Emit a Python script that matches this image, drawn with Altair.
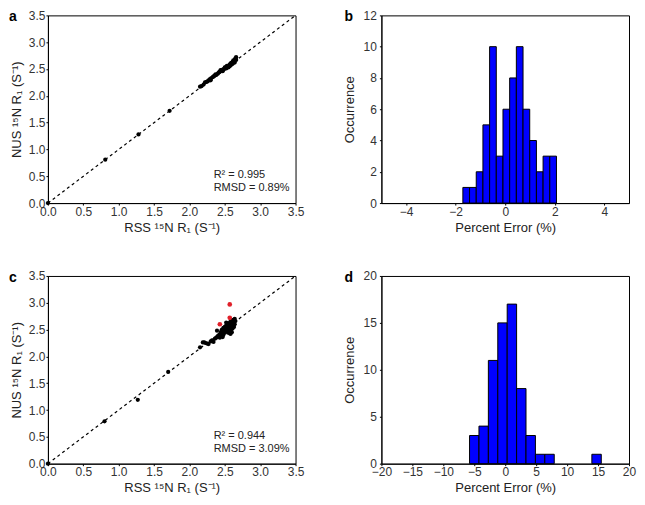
import altair as alt
import pandas as pd

# ---------------- data ----------------
# Panel a: RSS vs NUS 15N R1
a_x = [0.0, 0.81, 1.28, 1.72,
       2.15, 2.17, 2.20, 2.22, 2.24, 2.26, 2.27, 2.29, 2.30, 2.31, 2.33, 2.34, 2.35, 2.36, 2.37, 2.38,
       2.40, 2.41, 2.42, 2.43, 2.44, 2.45, 2.46, 2.47, 2.48, 2.49, 2.50, 2.50, 2.51, 2.52, 2.52, 2.53,
       2.54, 2.55, 2.55, 2.56, 2.57, 2.57, 2.58, 2.58, 2.59, 2.60, 2.60, 2.61, 2.61, 2.62, 2.62, 2.63,
       2.63, 2.64, 2.64, 2.65, 2.65, 2.66, 2.66, 2.44, 2.47, 2.53, 2.59, 2.62]
a_y = [0.0, 0.81, 1.28, 1.72,
       2.17, 2.18, 2.21, 2.25, 2.26, 2.27, 2.29, 2.31, 2.29, 2.33, 2.35, 2.36, 2.37, 2.38, 2.40, 2.39,
       2.41, 2.43, 2.44, 2.45, 2.46, 2.47, 2.48, 2.49, 2.49, 2.50, 2.51, 2.53, 2.52, 2.54, 2.51, 2.53,
       2.55, 2.53, 2.56, 2.57, 2.55, 2.58, 2.57, 2.60, 2.58, 2.59, 2.62, 2.60, 2.63, 2.62, 2.64, 2.63,
       2.65, 2.66, 2.62, 2.68, 2.70, 2.72, 2.67, 2.48, 2.46, 2.56, 2.61, 2.66]

# Panel c: RSS vs NUS 15N R1 (black = normal, red = outliers)
c_x = [0.0, 0.80, 1.27, 1.70,
       2.15, 2.19, 2.21, 2.23, 2.25, 2.27, 2.30, 2.32, 2.34, 2.36, 2.38, 2.39, 2.40, 2.42, 2.43, 2.44,
       2.45, 2.46, 2.46, 2.47, 2.48, 2.48, 2.49, 2.50, 2.50, 2.51, 2.52, 2.52, 2.53, 2.54, 2.54, 2.55,
       2.55, 2.56, 2.56, 2.57, 2.57, 2.58, 2.58, 2.59, 2.59, 2.60, 2.60, 2.61, 2.61, 2.62, 2.62, 2.63,
       2.63, 2.64, 2.64, 2.65, 2.52, 2.45, 2.58, 2.60, 2.47]
c_y = [0.0, 0.79, 1.19, 1.71,
       2.17, 2.26, 2.26, 2.25, 2.24, 2.23, 2.28, 2.30, 2.27, 2.33, 2.35, 2.48, 2.38, 2.40, 2.35, 2.44,
       2.38, 2.42, 2.50, 2.46, 2.40, 2.53, 2.48, 2.44, 2.55, 2.50, 2.46, 2.58, 2.52, 2.48, 2.60, 2.55,
       2.44, 2.50, 2.62, 2.57, 2.47, 2.53, 2.65, 2.60, 2.50, 2.56, 2.45, 2.62, 2.52, 2.58, 2.68, 2.55,
       2.64, 2.70, 2.60, 2.66, 2.63, 2.47, 2.42, 2.67, 2.36]
c_red_x = [2.57, 2.57, 2.43]
c_red_y = [2.97, 2.72, 2.60]

# Panel b histogram: percent error
b_edges = [-1.71, -1.44, -1.17, -0.90, -0.63, -0.36, -0.09, 0.18, 0.45, 0.72, 0.99, 1.26, 1.53, 1.80, 2.07]
b_counts = [1, 1, 2, 5, 10, 3, 6, 8, 10, 6, 4, 2, 3, 3]

# Panel d histogram: percent error
d_edges = [-5.76, -4.24, -2.72, -1.20, 0.32, 1.84, 3.36, 4.88, 6.40, 7.92, 9.44, 10.96, 12.48, 14.00, 15.52]
d_counts = [3, 4, 11, 15, 17, 8, 3, 1, 1, 0, 0, 0, 0, 1]

scatter_ticks = [0.0, 0.5, 1.0, 1.5, 2.0, 2.5, 3.0, 3.5]
b_xticks = [-4, -2, 0, 2, 4]
b_yticks = [0, 2, 4, 6, 8, 10, 12]
d_xticks = [-20, -15, -10, -5, 0, 5, 10, 15, 20]
d_yticks = [0, 5, 10, 15, 20]

X_TITLE = "RSS ¹⁵N R₁ (S⁻¹)"
Y_TITLE = "NUS ¹⁵N R₁ (S⁻¹)"

W, H = 248, 188
FONT = "Liberation Sans"
LETTER_SIZE = 14
LETTER_Y = 6


def scatter_panel(xs, ys, rx, ry, letter, r2, rmsd):
    df = pd.DataFrame({"x": xs, "y": ys})
    xsc = alt.Scale(domain=[0, 3.5], nice=False, zero=False)
    ysc = alt.Scale(domain=[0, 3.5], nice=False, zero=False)
    xax = alt.Axis(values=scatter_ticks, format=".1f", title=X_TITLE, titlePadding=4)
    yax = alt.Axis(values=scatter_ticks, format=".1f", title=Y_TITLE, titlePadding=5)
    xe = alt.X("x:Q", scale=xsc, axis=xax)
    ye = alt.Y("y:Q", scale=ysc, axis=yax)
    line_df = pd.DataFrame({"x": [0, 3.5], "y": [0, 3.5]})
    line = alt.Chart(line_df).mark_line(color="black", strokeDash=[3, 3], strokeWidth=1.2).encode(x=xe, y=ye)
    pts = alt.Chart(df).mark_circle(color="black", opacity=1, size=18).encode(x=xe, y=ye)
    layers = [line, pts]
    if rx:
        rdf = pd.DataFrame({"x": rx, "y": ry})
        layers.append(alt.Chart(rdf).mark_circle(color="#e0202a", opacity=1, size=22).encode(x=xe, y=ye))
    txt = pd.DataFrame({"t": [r2, rmsd], "py": [160, 173]})
    layers.append(alt.Chart(txt).mark_text(align="left", baseline="middle", font=FONT, fontSize=11,
                                           color="#222").encode(
        x=alt.value(166), y=alt.Y("py:Q", scale=None), text="t:N"))
    lab = pd.DataFrame({"t": [letter]})
    layers.append(alt.Chart(lab).mark_text(align="left", baseline="alphabetic", font=FONT,
                                           fontSize=LETTER_SIZE, fontWeight="bold", color="black").encode(
        x=alt.value(-39), y=alt.value(LETTER_Y), text="t:N"))
    return alt.layer(*layers).properties(width=W, height=H)


def hist_panel(edges, counts, xdom, xticks, ydom, yticks, letter):
    df = pd.DataFrame({"x0": edges[:-1], "x1": edges[1:], "n": counts})
    df = df[df["n"] > 0]
    xsc = alt.Scale(domain=xdom, nice=False, zero=False)
    ysc = alt.Scale(domain=ydom, nice=False)
    bars = alt.Chart(df).mark_bar(color="#0000ff", stroke="black", strokeWidth=1).encode(
        x=alt.X("x0:Q", scale=xsc, axis=alt.Axis(values=xticks, title="Percent Error (%)", titlePadding=4)),
        x2="x1:Q",
        y=alt.Y("n:Q", scale=ysc, axis=alt.Axis(values=yticks, title="Occurrence",
                                                labelPadding=3, titlePadding=7)),
        y2=alt.datum(0))
    lab = pd.DataFrame({"t": [letter]})
    letter_mark = alt.Chart(lab).mark_text(align="left", baseline="alphabetic", font=FONT,
                                           fontSize=LETTER_SIZE, fontWeight="bold", color="black").encode(
        x=alt.value(-37), y=alt.value(LETTER_Y), text="t:N")
    return alt.layer(bars, letter_mark).properties(width=W, height=H)


a = scatter_panel(a_x, a_y, None, None, "a", "R² = 0.995", "RMSD = 0.89%")
b = hist_panel(b_edges, b_counts, [-5, 5], b_xticks, [0, 12], b_yticks, "b")
c = scatter_panel(c_x, c_y, c_red_x, c_red_y, "c", "R² = 0.944", "RMSD = 3.09%")
d = hist_panel(d_edges, d_counts, [-20, 20], d_xticks, [0, 20], d_yticks, "d")

chart = alt.concat(a, b, c, d, columns=2, spacing={"row": 73, "column": 86}, bounds="flush").properties(
    background="white",
    padding={"left": 0, "top": 0, "right": 0, "bottom": 0}
).configure_view(
    stroke="black", strokeWidth=1
).configure_axis(
    grid=False, domainColor="black", domainWidth=1, tickColor="black", tickSize=2,
    labelFont=FONT, labelFontSize=12, labelColor="#333", labelPadding=1,
    labelOverlap=False, labelFlush=False,
    titleFont=FONT, titleFontSize=13, titleFontWeight="normal", titleColor="#222"
)

chart.save("out.html", embed_options={"renderer": "svg", "actions": False})
